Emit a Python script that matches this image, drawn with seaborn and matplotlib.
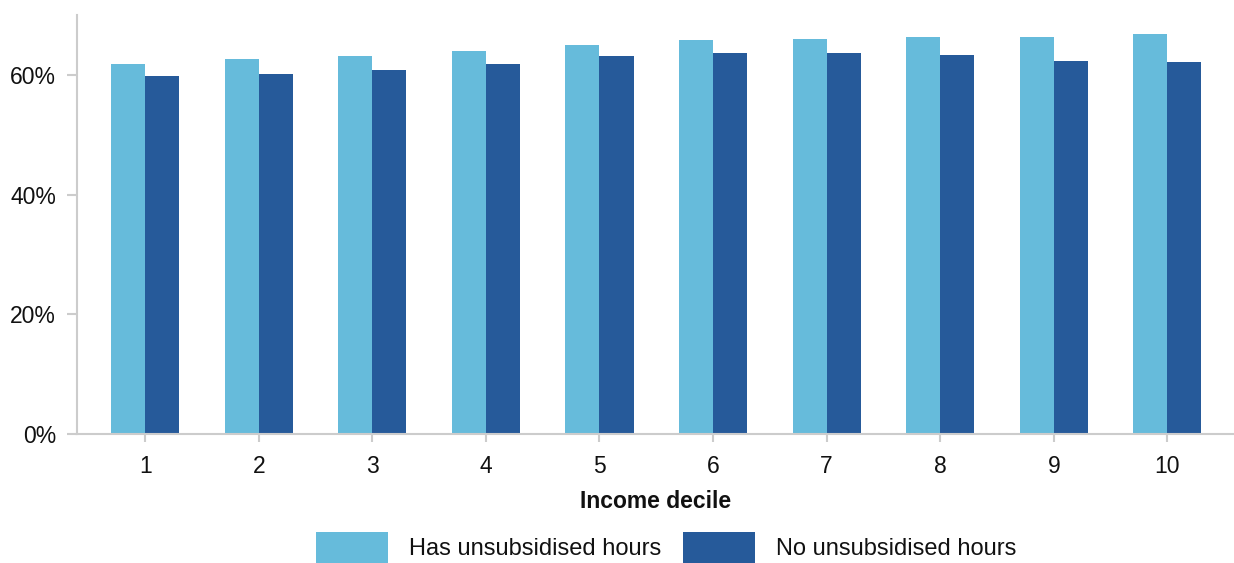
import matplotlib
matplotlib.use("Agg")
import matplotlib.pyplot as plt
import seaborn as sns
import pandas as pd
from matplotlib.patches import Patch

deciles = ["1", "2", "3", "4", "5", "6", "7", "8", "9", "10"]
has_unsub = [61.8, 62.6, 63.2, 64.1, 65.1, 65.9, 66.1, 66.3, 66.4, 66.9]
no_unsub = [59.9, 60.2, 60.9, 61.9, 63.1, 63.6, 63.6, 63.3, 62.4, 62.2]
series = ["Has unsubsidised hours", "No unsubsidised hours"]
colors = ["#66BBDB", "#265A9A"]
yticks = [0, 20, 40, 60]

df = pd.DataFrame({
    "decile": deciles * 2,
    "value": has_unsub + no_unsub,
    "series": [series[0]] * len(deciles) + [series[1]] * len(deciles),
})

sns.set_style("white")
plt.rcParams["font.family"] = ["Liberation Sans", "DejaVu Sans"]

FS = 16.5
fig = plt.figure(figsize=(12.34, 5.63), dpi=100)
ax = fig.add_axes([0.0624, 0.229, 0.937, 0.744])
sns.barplot(data=df, x="decile", y="value", hue="series", order=deciles,
            hue_order=series, palette=colors, width=0.6, saturation=1,
            linewidth=0, ax=ax, legend=False)

ax.set_ylim(0, 70)
ax.set_xlim(-0.6, 9.58)
ax.set_yticks(yticks)
ax.set_yticklabels([f"{t}%" for t in yticks])
ax.tick_params(axis="x", bottom=True, labelsize=FS, colors="#cccccc",
               labelcolor="#111111", length=6, width=1.5, direction="out", pad=9)
ax.tick_params(axis="y", left=True, labelsize=FS, colors="#cccccc",
               labelcolor="#111111", length=7, width=1.5, direction="out", pad=8)
ax.set_xlabel("Income decile", fontsize=FS, fontweight="bold", labelpad=9,
              color="#111111")
ax.set_ylabel("")
for s in ["top", "right"]:
    ax.spines[s].set_visible(False)
for s in ["left", "bottom"]:
    ax.spines[s].set_color("#cccccc")
    ax.spines[s].set_linewidth(1.5)

handles = [Patch(facecolor=c, edgecolor="none") for c in colors]
fig.legend(handles, series, loc="center", bbox_to_anchor=(0.54, 0.027),
           ncol=2, frameon=False, fontsize=17, handlelength=3.05,
           handleheight=1.72, handletextpad=0.9, columnspacing=0.9,
           labelcolor="#111111")

fig.savefig("out.png", dpi=100)
